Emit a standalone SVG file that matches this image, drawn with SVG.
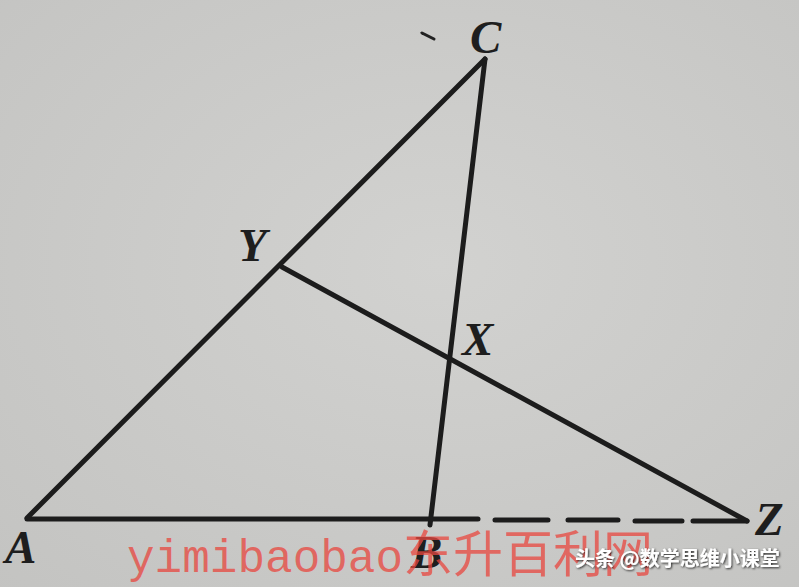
<svg xmlns="http://www.w3.org/2000/svg" width="799" height="587" viewBox="0 0 799 587">
<defs>
<radialGradient id="bg" cx="0.55" cy="0.45" r="0.8">
<stop offset="0" stop-color="#d2d2d0"/>
<stop offset="1" stop-color="#c3c3c1"/>
</radialGradient>
<filter id="sh" x="-10%" y="-30%" width="120%" height="160%">
<feDropShadow dx="1" dy="1" stdDeviation="1" flood-color="#000" flood-opacity="0.8"/>
</filter>
</defs>
<style>
.ln{stroke:#1c1c1c;stroke-width:5;fill:none;stroke-linecap:round;stroke-linejoin:round}
.lbl{font-family:"Liberation Serif","Times New Roman",serif;font-style:italic;font-weight:bold;font-size:47px;fill:#1e1e1e}
.wm{font-family:"Liberation Mono","Noto Sans CJK SC",monospace;font-size:46px;fill:#e8473f;fill-opacity:0.75}
.tt{font-family:"Noto Sans CJK SC","Noto Sans",sans-serif;font-size:20px;font-weight:bold;fill:#ffffff}
</style>
<rect width="799" height="587" fill="url(#bg)"/>
<g id="connectors">
<line class="ln" x1="27" y1="518" x2="485" y2="59"/>
<line class="ln" x1="485" y1="59" x2="430" y2="525"/>
<line class="ln" x1="27" y1="519" x2="478" y2="519"/>
<path class="ln" d="M495 520H548M568 520H618M635 521H682M693 521H747"/>
<line class="ln" x1="282" y1="267" x2="747" y2="521"/>
<path d="M422 33 L434 39" stroke="#222" stroke-width="3" stroke-linecap="round"/>
</g>
<g id="node-A"><text class="lbl" x="5" y="563">A</text></g>
<g id="node-B"><text class="lbl" x="411" y="568">B</text></g>
<g id="node-C"><text class="lbl" x="470" y="53" font-weight="normal">C</text></g>
<g id="node-Y"><text class="lbl" x="238" y="261">Y</text></g>
<g id="node-X"><text class="lbl" x="462" y="355">X</text></g>
<g id="node-Z"><text class="lbl" x="755" y="535">Z</text></g>
<g id="watermark">
<text class="wm" x="127" y="572">yimibaobao<tspan font-size="50">东升百利网</tspan></text>
<text class="tt" x="575" y="566" filter="url(#sh)">头条 @数学思维小课堂</text>
</g>
</svg>
